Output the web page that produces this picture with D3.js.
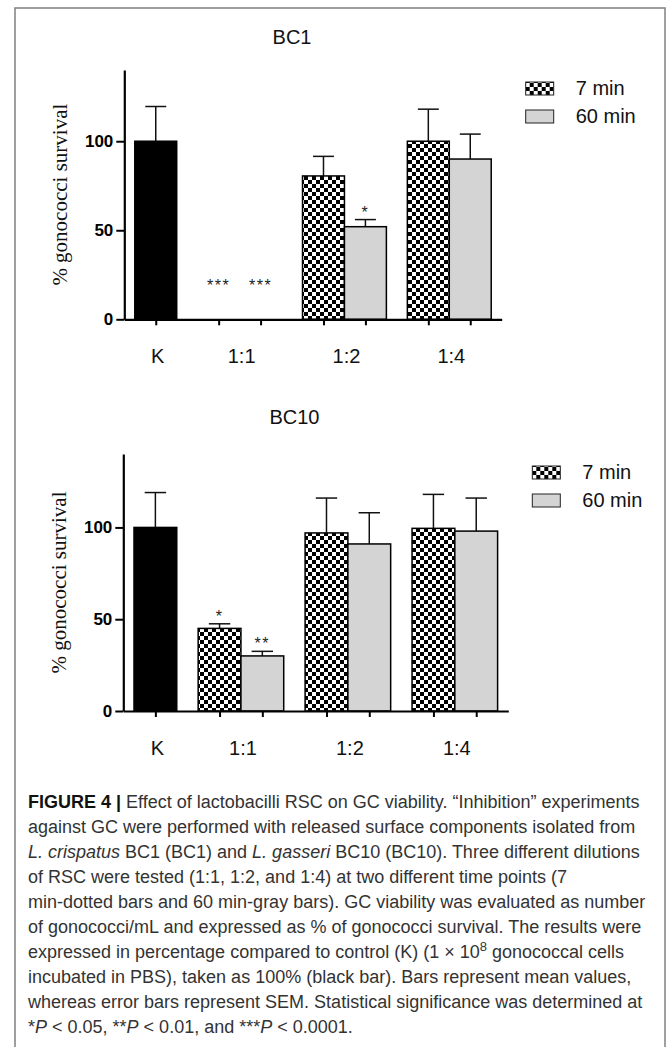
<!DOCTYPE html>
<html>
<head>
<meta charset="utf-8">
<script src="https://cdnjs.cloudflare.com/ajax/libs/d3/7.8.5/d3.min.js"></script>
<style>
  body { margin: 0; background: #fff; }
  svg { display: block; }
</style>
</head>
<body>
<div id="figure"></div>
<script>
'use strict';

/* chart data */
var groups = ['K', '1:1', '1:2', '1:4'];
var seriesNames = ['7 min', '60 min'];
var yTicks = [0, 50, 100];
var yMax = 140;

// BC1: control bar, then 7 min / 60 min for 1:1, 1:2, 1:4
var bc1Control = 100;
var bc1ControlSem = 19.5;
var bc1Min7 = [0, 80.5, 100];
var bc1Min7Sem = [0, 11, 18];
var bc1Min60 = [0, 52, 90];
var bc1Min60Sem = [0, 4, 14];
var bc1Stars7 = ['***', '', ''];
var bc1Stars60 = ['***', '*', ''];

// BC10
var bc10Control = 100;
var bc10ControlSem = 19;
var bc10Min7 = [45, 97, 99.5];
var bc10Min7Sem = [2.5, 19, 18.5];
var bc10Min60 = [30, 91, 98];
var bc10Min60Sem = [2.5, 17, 18];
var bc10Stars7 = ['*', '', ''];
var bc10Stars60 = ['**', '', ''];

// caption, line by line: [text, style]
var captionLines = [
  [['FIGURE 4 | ', 'b'], ['Effect of lactobacilli RSC on GC viability. \u201CInhibition\u201D experiments', '']],
  [['against GC were performed with released surface components isolated from', '']],
  [['L. crispatus', 'i'], [' BC1 (BC1) and ', ''], ['L. gasseri', 'i'], [' BC10 (BC10). Three different dilutions', '']],
  [['of RSC were tested (1:1, 1:2, and 1:4) at two different time points (7', '']],
  [['min-dotted bars and 60 min-gray bars). GC viability was evaluated as number', '']],
  [['of gonococci/mL and expressed as % of gonococci survival. The results were', '']],
  [['expressed in percentage compared to control (K) (1 \u00D7 10', ''], ['8', 'sup'], [' gonococcal cells', '']],
  [['incubated in PBS), taken as 100% (black bar). Bars represent mean values,', '']],
  [['whereas error bars represent SEM. Statistical significance was determined at', '']],
  [['*', ''], ['P', 'i'], [' < 0.05, **', ''], ['P', 'i'], [' < 0.01, and ***', ''], ['P', 'i'], [' < 0.0001.', '']]
];

var sans = "'Liberation Sans', Arial, Helvetica, sans-serif";
var serif = "'Liberation Serif', 'Times New Roman', serif";

var width = 669, height = 1047;

var svg = d3.select('#figure')
  .append('svg')
    .attr('width', width)
    .attr('height', height);

svg.append('rect')
    .attr('width', width)
    .attr('height', height)
    .attr('fill', '#fff');

// checker fill for the 7 min bars
var pattern = svg.append('defs')
  .append('pattern')
    .attr('id', 'checker')
    .attr('patternUnits', 'userSpaceOnUse')
    .attr('width', 8)
    .attr('height', 8);
pattern.append('rect').attr('width', 8).attr('height', 8).attr('fill', '#fff');
pattern.append('rect').attr('width', 4).attr('height', 4).attr('fill', '#000');
pattern.append('rect').attr('x', 4).attr('y', 4).attr('width', 4).attr('height', 4).attr('fill', '#000');

// frame around the figure
svg.append('rect')
    .attr('x', 15)
    .attr('y', 8)
    .attr('width', 650)
    .attr('height', 1060)
    .attr('fill', 'none')
    .attr('stroke', '#808080')
    .attr('stroke-width', 1.5);

// turn the arrays into one row per bar, with a slot position on the x scale
function buildBars(control, controlSem, m7, m7Sem, m60, m60Sem, stars7, stars60) {
  var bars = [];
  var cursor = 0.25;
  groups.forEach(function (g, gi) {
    if (gi === 0) {
      bars.push({group: g, kind: 'control', slot: cursor, value: control, sem: controlSem, star: ''});
      cursor += 1.5;
    } else {
      var i = gi - 1;
      bars.push({group: g, kind: seriesNames[0], slot: cursor, value: m7[i], sem: m7Sem[i], star: stars7[i]});
      bars.push({group: g, kind: seriesNames[1], slot: cursor + 1, value: m60[i], sem: m60Sem[i], star: stars60[i]});
      cursor += 2.5;
    }
  });
  return bars;
}

var fills = {'control': '#000', '7 min': 'url(#checker)', '60 min': '#d4d4d4'};

function drawPanel(cfg, bars) {
  var x = d3.scaleLinear().domain([0, 9]).range([cfg.left, cfg.right]);
  var y = d3.scaleLinear().domain([0, yMax]).range([cfg.bottom, cfg.top]);
  var g = svg.append('g');

  // title
  g.append('text')
      .attr('x', x(4))
      .attr('y', cfg.titleY)
      .attr('text-anchor', 'middle')
      .attr('font-family', sans)
      .attr('font-size', 20)
      .attr('fill', '#111')
      .text(cfg.title);

  // y label
  g.append('text')
      .attr('transform', 'translate(' + (cfg.left - 57) + ',' + ((cfg.top + cfg.bottom) / 2) + ') rotate(-90)')
      .attr('text-anchor', 'middle')
      .attr('font-family', serif)
      .attr('font-size', 21)
      .attr('fill', '#111')
      .text('% gonococci survival');

  // error bars
  var errs = g.selectAll('.err')
    .data(bars.filter(function (d) { return d.sem > 0; }))
    .enter().append('g')
      .attr('stroke', '#111')
      .attr('stroke-width', 1.5);
  errs.append('line')
      .attr('x1', function (d) { return x(d.slot + 0.5); })
      .attr('x2', function (d) { return x(d.slot + 0.5); })
      .attr('y1', function (d) { return y(d.value); })
      .attr('y2', function (d) { return y(d.value + d.sem); });
  errs.append('line')
      .attr('x1', function (d) { return x(d.slot + 0.25); })
      .attr('x2', function (d) { return x(d.slot + 0.75); })
      .attr('y1', function (d) { return y(d.value + d.sem); })
      .attr('y2', function (d) { return y(d.value + d.sem); });

  // bars
  g.selectAll('.bar')
    .data(bars.filter(function (d) { return d.value > 0; }))
    .enter().append('rect')
      .attr('x', function (d) { return x(d.slot); })
      .attr('width', function (d) { return x(d.slot + 1) - x(d.slot); })
      .attr('y', function (d) { return y(d.value); })
      .attr('height', function (d) { return y(0) - y(d.value); })
      .attr('fill', function (d) { return fills[d.kind]; })
      .attr('stroke', '#000')
      .attr('stroke-width', 1.5);

  // significance stars
  g.selectAll('.star')
    .data(bars.filter(function (d) { return d.star; }))
    .enter().append('text')
      .attr('x', function (d) { return x(d.slot + 0.5); })
      .attr('y', function (d) { return d.value > 0 ? y(d.value + d.sem) - 2 : y(0) - 28; })
      .attr('text-anchor', 'middle')
      .attr('font-family', sans)
      .attr('font-size', 16)
      .attr('letter-spacing', 1.5)
      .attr('fill', '#222')
      .text(function (d) { return d.star; });

  // y axis
  var yAxis = g.append('g')
      .attr('transform', 'translate(' + cfg.left + ',0)')
      .call(d3.axisLeft(y).tickValues(yTicks).tickSize(8).tickPadding(3).tickSizeOuter(0));
  yAxis.select('.domain').attr('stroke', '#000').attr('stroke-width', 2.2);
  yAxis.selectAll('.tick line').attr('stroke', '#000').attr('stroke-width', 2);
  yAxis.selectAll('.tick text')
      .attr('font-family', sans)
      .attr('font-size', 17)
      .attr('font-weight', 'bold')
      .attr('fill', '#000');

  // x axis, one tick under each bar
  var xAxis = g.append('g')
      .attr('transform', 'translate(0,' + cfg.bottom + ')')
      .call(d3.axisBottom(x)
        .tickValues(bars.map(function (d) { return d.slot + 0.5; }))
        .tickSize(6)
        .tickSizeOuter(0)
        .tickFormat(''));
  xAxis.select('.domain').attr('stroke', '#000').attr('stroke-width', 2.2);
  xAxis.selectAll('.tick line').attr('stroke', '#000').attr('stroke-width', 2);

  // group labels centred under each group
  g.selectAll('.glabel')
    .data(groups)
    .enter().append('text')
      .attr('x', function (gr) {
        var gb = bars.filter(function (d) { return d.group === gr; });
        return x((gb[0].slot + gb[gb.length - 1].slot + 1) / 2) + 2;
      })
      .attr('y', cfg.bottom + 44)
      .attr('text-anchor', 'middle')
      .attr('font-family', sans)
      .attr('font-size', 20)
      .attr('fill', '#111')
      .text(function (gr) { return gr; });

  // legend
  var leg = g.selectAll('.leg')
    .data(seriesNames)
    .enter().append('g')
      .attr('transform', function (d, i) {
        return 'translate(' + (cfg.right + 24) + ',' + (cfg.top + 25 + i * 28) + ')';
      });
  leg.append('rect')
      .attr('y', -13)
      .attr('width', 28)
      .attr('height', 13)
      .attr('fill', function (d) { return fills[d]; })
      .attr('stroke', '#222')
      .attr('stroke-width', 1);
  leg.append('text')
      .attr('x', 50)
      .attr('font-family', sans)
      .attr('font-size', 20)
      .attr('fill', '#111')
      .text(function (d) { return d; });
}

drawPanel({title: 'BC1', left: 124.3, right: 501.7, top: 70, bottom: 319.3, titleY: 44},
  buildBars(bc1Control, bc1ControlSem, bc1Min7, bc1Min7Sem, bc1Min60, bc1Min60Sem, bc1Stars7, bc1Stars60));

drawPanel({title: 'BC10', left: 123.3, right: 508.3, top: 454, bottom: 711, titleY: 424},
  buildBars(bc10Control, bc10ControlSem, bc10Min7, bc10Min7Sem, bc10Min60, bc10Min60Sem, bc10Stars7, bc10Stars60));

// caption
var caption = svg.append('g')
    .attr('font-family', sans)
    .attr('font-size', 18)
    .attr('fill', '#333');

captionLines.forEach(function (line, li) {
  var t = caption.append('text')
      .attr('x', 28)
      .attr('y', 808 + li * 25);
  line.forEach(function (seg) {
    var s = t.append('tspan').text(seg[0]);
    if (seg[1] === 'b') s.attr('font-weight', 'bold').attr('fill', '#111');
    if (seg[1] === 'i') s.attr('font-style', 'italic');
    if (seg[1] === 'sup') s.attr('font-size', 13).attr('baseline-shift', '55%');
  });
});
</script>
</body>
</html>
